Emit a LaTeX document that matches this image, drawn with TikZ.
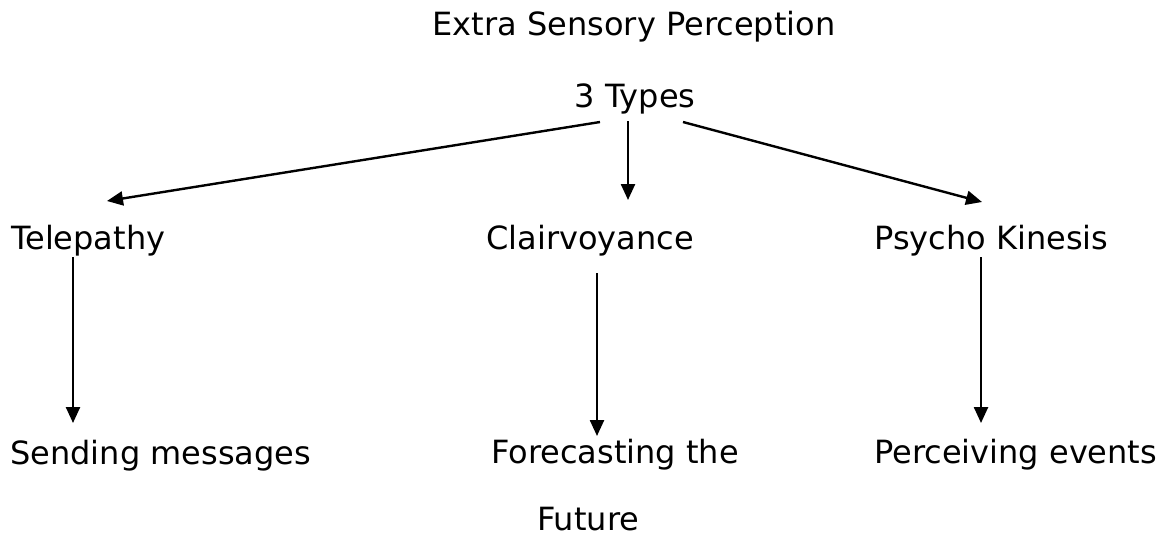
\documentclass[tikz,border=0pt]{standalone}
\usepackage{fontspec}
\setmainfont{DejaVu Sans}
\usetikzlibrary{arrows.meta}
\begin{document}
\begin{tikzpicture}[x=0.75pt,y=-0.75pt,
  lbl/.style={inner sep=0pt,font=\fontsize{24pt}{28pt}\selectfont,anchor=base west},
  conn/.style={line width=1.8pt,-{Triangle[length=12pt,width=10.5pt]}}]
\useasboundingbox (0,0) rectangle (1162,537);
\node[lbl,anchor=base] (esp) at (634,35) {Extra Sensory Perception};
\node[lbl,anchor=base] (types) at (635,107) {3 Types};
\node[lbl] (tele) at (11,249) {Telepathy};
\node[lbl] (clair) at (486,249) {Clairvoyance};
\node[lbl] (psy) at (874,249) {Psycho Kinesis};
\node[lbl] (send) at (10,464) {Sending messages};
\node[lbl] (fore) at (491,463) {Forecasting the};
\node[lbl,text depth=0pt] (fut) at (537,530) {Future};
\node[lbl] (perc) at (874,463) {Perceiving events};
\coordinate (a1s) at (600,122); \coordinate (a1e) at (107,201);
\coordinate (a2s) at (628,121); \coordinate (a2e) at (628,200);
\coordinate (a3s) at (683,122); \coordinate (a3e) at (982,202);
\coordinate (b1s) at (73,257); \coordinate (b1e) at (73,423);
\coordinate (b2s) at (597,273); \coordinate (b2e) at (597,436);
\coordinate (b3s) at (981,257); \coordinate (b3e) at (981,423);
\draw[conn] (a1s) -- (a1e);
\draw[conn] (a2s) -- (a2e);
\draw[conn] (a3s) -- (a3e);
\draw[conn] (b1s) -- (b1e);
\draw[conn] (b2s) -- (b2e);
\draw[conn] (b3s) -- (b3e);
\end{tikzpicture}
\end{document}
